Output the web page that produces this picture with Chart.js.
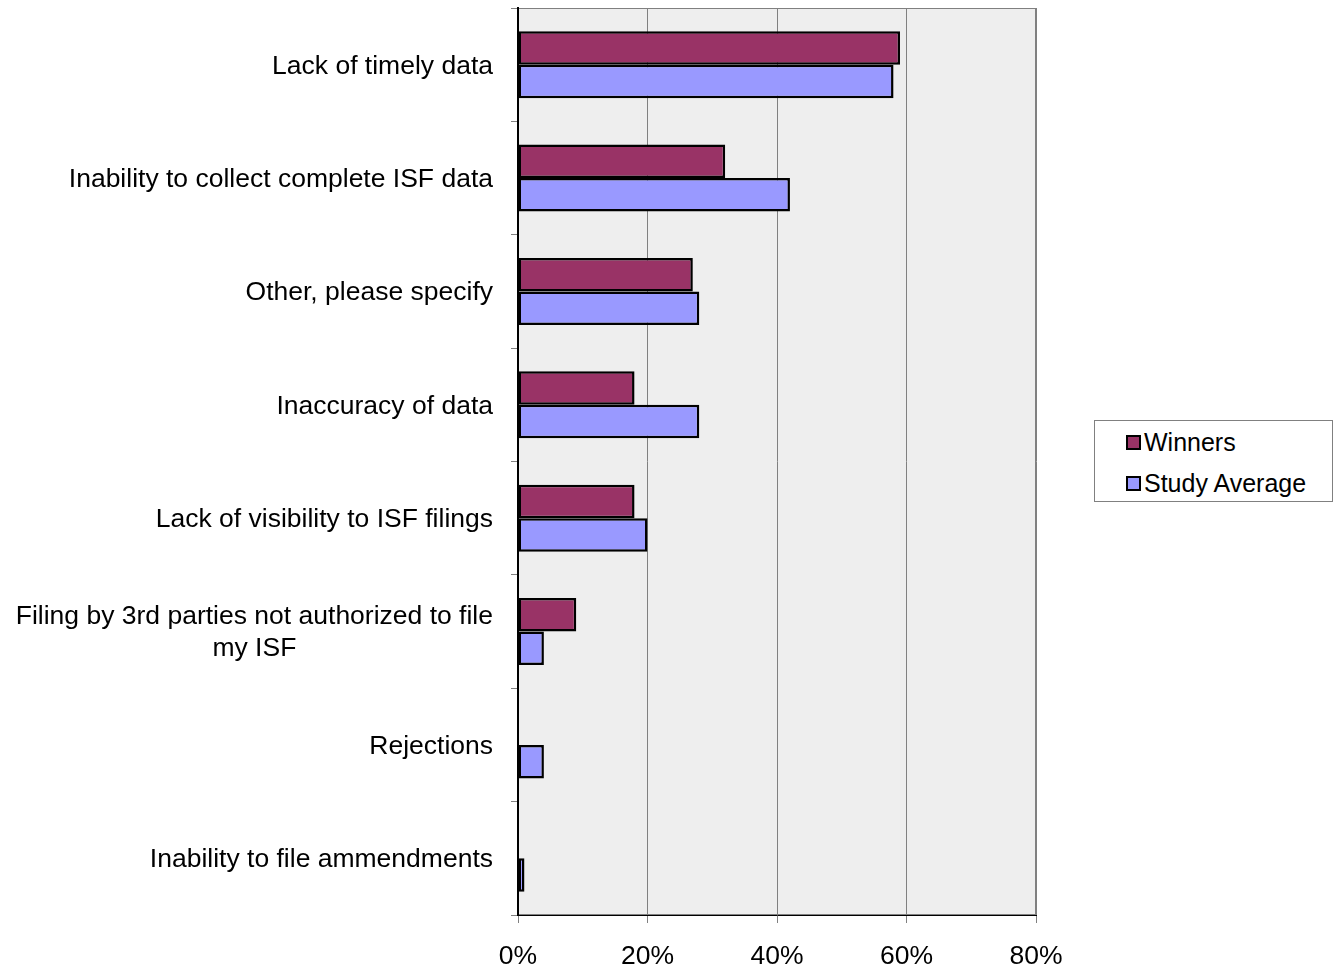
<!DOCTYPE html>
<html>
<head>
<meta charset="utf-8">
<script src="https://cdn.jsdelivr.net/npm/chart.js@4/dist/chart.umd.min.js"></script>
<style>
    html, body { margin: 0; padding: 0; background: #fff; }
    #wrap { position: relative; width: 1336px; height: 970px; }
    #legend {
        position: absolute; left: 1094px; top: 420px; width: 239px; height: 82px;
        border: 1px solid #808080; box-sizing: border-box; background: #fff;
        font-family: "Liberation Sans", Arial, sans-serif; font-size: 25px; color: #000;
    }
    .item { position: absolute; left: 31px; height: 30px; display: flex; align-items: center; }
    .swatch { width: 11px; height: 11px; border: 2px solid #000; margin-right: 3px; }
</style>
</head>
<body>
<div id="wrap">
    <canvas id="chart" width="1336" height="970"></canvas>
    <div id="legend"></div>
</div>
<script>
const categories = [
    'Lack of timely data',
    'Inability to collect complete ISF data',
    'Other, please specify',
    'Inaccuracy of data',
    'Lack of visibility to ISF filings',
    ['Filing by 3rd parties not authorized to file', 'my ISF'],
    'Rejections',
    'Inability to file ammendments'
];
const winners = [59, 32, 27, 18, 18, 9, 0, 0];
const studyAverage = [58, 42, 28, 28, 20, 4, 4, 1];
const xTicks = [0, 20, 40, 60, 80];

const seriesNames = ['Winners', 'Study Average'];
const seriesColors = ['#993366', '#9999FF'];
const FONT = '"Liberation Sans", Arial, sans-serif';
const FONT_SIZE = 26.5;

// plot background + grey frame
const plotArea = {
    id: 'plotArea',
    beforeDraw(chart) {
        const { ctx, chartArea: a } = chart;
        ctx.save();
        ctx.fillStyle = '#EEEEEE';
        ctx.fillRect(a.left, a.top, a.right - a.left, a.bottom - a.top);
        ctx.strokeStyle = '#808080';
        ctx.lineWidth = 1;
        ctx.strokeRect(a.left + 0.5, a.top + 0.5, a.right - a.left - 1, a.bottom - a.top - 1);
        ctx.restore();
    }
};

// category labels: block right-aligned, lines centred inside it
const catLabels = {
    id: 'catLabels',
    afterDraw(chart) {
        const { ctx } = chart;
        const y = chart.scales.y;
        const right = y.right - 25;
        ctx.save();
        ctx.font = FONT_SIZE + 'px ' + FONT;
        ctx.fillStyle = '#000';
        ctx.textBaseline = 'middle';
        ctx.textAlign = 'center';
        categories.forEach((lab, i) => {
            const lines = Array.isArray(lab) ? lab : [lab];
            const w = Math.max(...lines.map(l => ctx.measureText(l).width));
            const cy = y.getPixelForValue(i) + 1.5;
            const lh = 32;
            lines.forEach((l, k) => {
                ctx.fillText(l, right - w / 2, cy + (k - (lines.length - 1) / 2) * lh);
            });
        });
        ctx.restore();
    }
};

new Chart(document.getElementById('chart'), {
    type: 'bar',
    data: {
        labels: categories,
        datasets: [
            { label: seriesNames[0], data: winners, backgroundColor: seriesColors[0] },
            { label: seriesNames[1], data: studyAverage, backgroundColor: seriesColors[1] }
        ]
    },
    options: {
        indexAxis: 'y',
        responsive: false,
        animation: false,
        layout: { padding: { top: 8, right: 300, left: 0, bottom: 0 } },
        datasets: {
            bar: {
                borderColor: '#000',
                borderWidth: 2.5,
                borderSkipped: false,
                categoryPercentage: 0.59,
                barPercentage: 1
            }
        },
        plugins: {
            legend: { display: false },
            tooltip: { enabled: false }
        },
        scales: {
            x: {
                min: 0,
                max: 80,
                afterBuildTicks: s => { s.ticks = xTicks.map(v => ({ value: v })); },
                afterFit: s => { s.height = 55; },
                ticks: {
                    callback: v => v + '%',
                    font: { family: FONT, size: FONT_SIZE },
                    color: '#000',
                    padding: 18,
                    maxRotation: 0
                },
                grid: { color: '#808080', tickColor: '#808080', tickLength: 8 },
                border: { color: '#000', width: 1 }
            },
            y: {
                afterFit: s => { s.width = 518; },
                ticks: { display: false },
                grid: {
                    offset: true,
                    drawOnChartArea: false,
                    tickLength: 7,
                    tickColor: '#808080'
                },
                border: { color: '#000', width: 2 }
            }
        }
    },
    plugins: [plotArea, catLabels]
});

// legend
const legend = document.getElementById('legend');
seriesNames.forEach((name, i) => {
    const item = document.createElement('div');
    item.className = 'item';
    item.style.top = (6 + i * 41) + 'px';
    item.innerHTML = `<span class="swatch" style="background:${seriesColors[i]}"></span><span>${name}</span>`;
    legend.appendChild(item);
});
</script>
</body>
</html>
